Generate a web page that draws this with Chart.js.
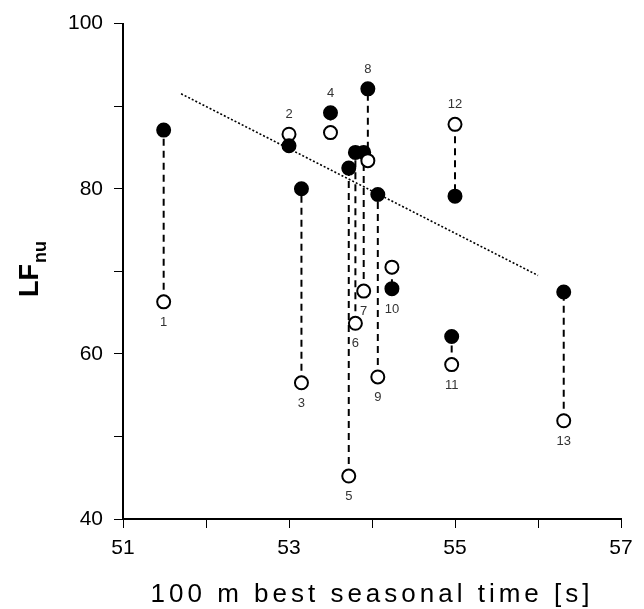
<!DOCTYPE html>
<html>
<head>
<meta charset="utf-8">
<script src="https://cdn.jsdelivr.net/npm/chart.js@4.4.1/dist/chart.umd.min.js"></script>
<style>
  html, body { margin: 0; padding: 0; background: #fff; }
  #wrap { width: 644px; height: 609px; position: relative; }
</style>
</head>
<body>
<div id="wrap"><canvas id="lfChart"></canvas></div>
<script>
// subject numbers, best seasonal 100 m time and LFnu values
const subjects = ['1', '2', '3', '4', '5', '6', '7', '8', '9', '10', '11', '12', '13'];
const bestTime = [51.49, 53.0, 53.15, 53.5, 53.72, 53.8, 53.9, 53.95, 54.07, 54.24, 54.96, 55.0, 56.31];
const lfFilled = [87.1, 85.2, 80.0, 89.2, 82.5, 84.4, 84.4, 92.1, 79.3, 67.9, 62.1, 79.1, 67.5];
const lfOpen = [66.3, 86.6, 56.5, 86.8, 45.2, 63.7, 67.6, 83.4, 57.2, 70.5, 58.7, 87.8, 51.9];
const labelAbove = ['2', '4', '8', '12'];

// regression line end points
const trendX = [51.7, 56.0];
const trendY = [91.5, 69.5];

const yTicks = [40, 60, 80, 100];
const xTicks = [51, 53, 55, 57];

const FONT = '"Liberation Sans", Arial, sans-serif';

const datasets = subjects.map((s, i) => ({
    label: s,
    data: [{ x: bestTime[i], y: lfOpen[i] }, { x: bestTime[i], y: lfFilled[i] }],
    showLine: true,
    borderColor: '#000',
    borderWidth: 2,
    borderDash: [7, 5],
    pointRadius: 6.5,
    pointBorderWidth: 2,
    pointBorderColor: '#000',
    pointBackgroundColor: ['#fff', '#000'],
    order: subjects.length - i
}));

datasets.push({
    label: 'trend',
    data: trendX.map((x, i) => ({ x: x, y: trendY[i] })),
    showLine: true,
    borderColor: '#000',
    borderWidth: 1.6,
    borderDash: [2, 2],
    pointRadius: 0,
    order: 100
});

// titles and subject numbers
const annotate = {
    id: 'annotate',
    afterDatasetsDraw(chart) {
        const ctx = chart.ctx;
        const xs = chart.scales.x, ys = chart.scales.y;
        ctx.save();
        ctx.fillStyle = '#333';
        ctx.font = '13px ' + FONT;
        ctx.textAlign = 'center';
        subjects.forEach((s, i) => {
            const px = xs.getPixelForValue(bestTime[i]);
            if (labelAbove.includes(s)) {
                const py = ys.getPixelForValue(Math.max(lfOpen[i], lfFilled[i]));
                ctx.textBaseline = 'bottom';
                ctx.fillText(s, px, py - 13);
            } else {
                const py = ys.getPixelForValue(Math.min(lfOpen[i], lfFilled[i]));
                ctx.textBaseline = 'top';
                ctx.fillText(s, px, py + 14);
            }
        });
        ctx.restore();

        // x title
        ctx.save();
        ctx.fillStyle = '#000';
        ctx.font = '26px ' + FONT;
        ctx.letterSpacing = '4px';
        ctx.textAlign = 'center';
        ctx.textBaseline = 'alphabetic';
        const cx = (chart.chartArea.left + chart.chartArea.right) / 2;
        ctx.fillText('100 m best seasonal time [s]', cx, 602);
        ctx.restore();

        // y title with subscript
        ctx.save();
        ctx.fillStyle = '#000';
        ctx.translate(38, 297);
        ctx.rotate(-Math.PI / 2);
        ctx.textAlign = 'left';
        ctx.textBaseline = 'alphabetic';
        ctx.font = 'bold 27px ' + FONT;
        ctx.fillText('LF', 0, 0);
        const w = ctx.measureText('LF').width;
        ctx.font = 'bold 18px ' + FONT;
        ctx.fillText('nu', w + 1, 8);
        ctx.restore();
    }
};

new Chart(document.getElementById('lfChart'), {
    type: 'scatter',
    data: { datasets: datasets },
    options: {
        responsive: true,
        maintainAspectRatio: false,
        animation: false,
        layout: { padding: { top: 20, right: 23, left: 0, bottom: 0 } },
        plugins: {
            legend: { display: false },
            tooltip: { enabled: false }
        },
        scales: {
            x: {
                type: 'linear',
                min: 51,
                max: 57,
                afterFit(scale) { scale.height = 90; },
                ticks: {
                    stepSize: 1,
                    color: '#000',
                    font: { family: FONT, size: 21 },
                    padding: 8,
                    maxRotation: 0,
                    callback: v => xTicks.includes(v) ? String(v) : ''
                },
                grid: {
                    drawOnChartArea: false,
                    drawTicks: true,
                    tickLength: 9,
                    tickColor: '#000',
                    tickWidth: 1
                },
                border: { display: true, color: '#000', width: 2 }
            },
            y: {
                type: 'linear',
                min: 40,
                max: 100,
                afterFit(scale) { scale.width = 123; },
                ticks: {
                    stepSize: 10,
                    color: '#000',
                    font: { family: FONT, size: 21 },
                    padding: 11,
                    callback: v => yTicks.includes(v) ? String(v) : ''
                },
                grid: {
                    drawOnChartArea: false,
                    drawTicks: true,
                    tickLength: 9,
                    tickColor: '#000',
                    tickWidth: 1
                },
                border: { display: true, color: '#000', width: 2 }
            }
        }
    },
    plugins: [annotate]
});
</script>
</body>
</html>
